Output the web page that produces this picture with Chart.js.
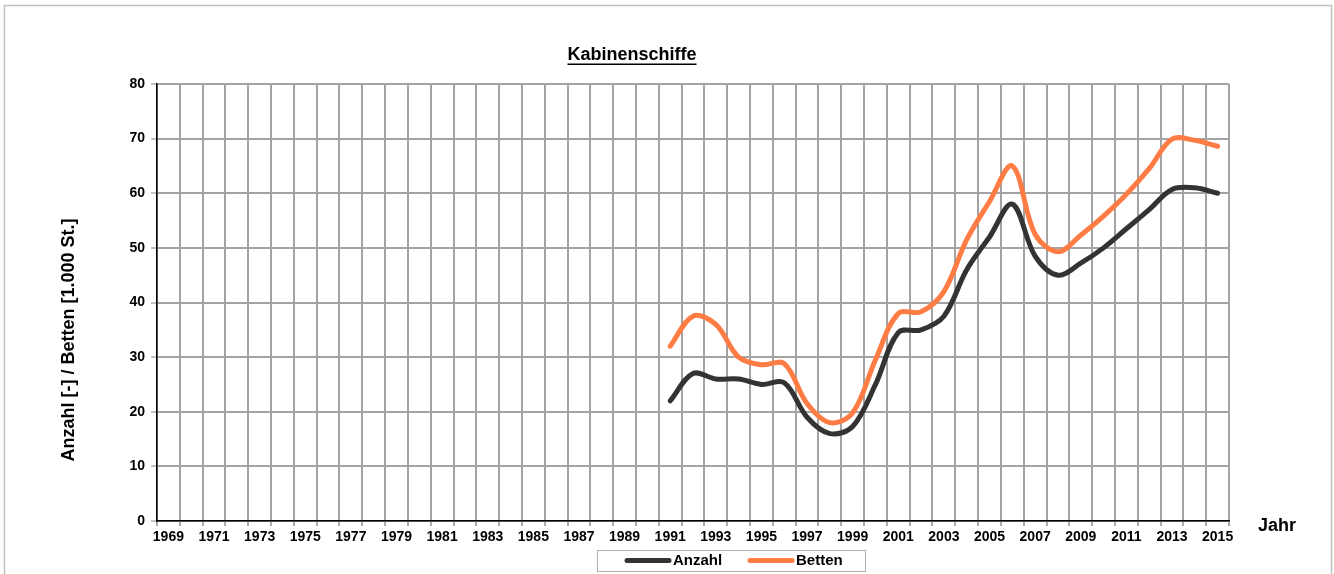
<!DOCTYPE html>
<html>
<head>
<meta charset="utf-8">
<script src="https://cdn.jsdelivr.net/npm/chart.js@4"></script>
<style>
    body { margin: 0; background: #fff; }
    #wrap { width: 1334px; height: 574px; position: relative; }
</style>
</head>
<body>
<div id="wrap"><canvas id="_dm-kabinenChart"></canvas></div>
<script>
// Chart data
// ----------------------------------------------
const years = [
    '1969','1970','1971','1972','1973','1974','1975','1976','1977','1978',
    '1979','1980','1981','1982','1983','1984','1985','1986','1987','1988',
    '1989','1990','1991','1992','1993','1994','1995','1996','1997','1998',
    '1999','2000','2001','2002','2003','2004','2005','2006','2007','2008',
    '2009','2010','2011','2012','2013','2014','2015'
];
// values 1991 - 2015 (no data before)
const anzahl = [22, 27, 26, 26, 25, 25.3, 19, 16, 17.3, 25, 34.5, 35, 37.5, 46, 52, 58, 48.5, 45, 47.2, 50, 53.5, 57, 60.7, 61, 60];
const betten = [32, 37.5, 36, 30, 28.6, 28.8, 21.5, 18, 19.8, 29.5, 38, 38.3, 42, 51.5, 58.5, 65, 52.5, 49.3, 52.3, 55.8, 59.8, 64.5, 69.9, 69.7, 68.6];
const yTicks = [0, 10, 20, 30, 40, 50, 60, 70, 80];

const firstYear = years.indexOf('1991');
const pad = (arr) => years.map((y, i) => (i < firstYear ? null : arr[i - firstYear]));

const darkColor   = '#333333';
const orangeColor = '#ff7d44';
const gridColor   = '#a3a3a3';
const fontFamily  = '"Liberation Sans", Arial, sans-serif';


// Decorations: frame, titles, "Jahr", legend box
// ----------------------------------------------
const decoPlugin = {
    id: 'deco',
    afterDraw(chart) {
        const ctx = chart.ctx;
        const area = chart.chartArea;
        ctx.save();

        // outer frame
        ctx.strokeStyle = '#c0c0c0';
        ctx.lineWidth = 1.5;
        ctx.strokeRect(4.5, 5.5, 1327, 620);

        // title
        ctx.fillStyle = '#000';
        ctx.font = 'bold 18px ' + fontFamily;
        ctx.textAlign = 'center';
        ctx.textBaseline = 'middle';
        ctx.fillText('Kabinenschiffe', 632, 55);
        const tw = ctx.measureText('Kabinenschiffe').width;
        ctx.fillRect(632 - tw / 2, 63.5, tw, 1.5);

        // x axis title
        ctx.fillText('Jahr', 1277, area.bottom + 5);

        // y axis title
        ctx.save();
        ctx.translate(69, 340);
        ctx.rotate(-Math.PI / 2);
        ctx.fillText('Anzahl [-] / Betten [1.000 St.]', 0, 0);
        ctx.restore();

        // legend
        ctx.strokeStyle = '#b0b0b0';
        ctx.lineWidth = 1;
        ctx.strokeRect(597.5, 550.5, 268, 21);
        ctx.font = 'bold 15px ' + fontFamily;
        ctx.textAlign = 'left';
        const items = [[627, 673], [750, 796]];
        chart.data.datasets.forEach((ds, i) => {
            ctx.strokeStyle = ds.borderColor;
            ctx.lineWidth = 5;
            ctx.lineCap = 'round';
            ctx.beginPath();
            ctx.moveTo(items[i][0], 560.5);
            ctx.lineTo(items[i][0] + 42, 560.5);
            ctx.stroke();
            ctx.fillStyle = '#000';
            ctx.fillText(ds.label, items[i][1], 561);
        });
        ctx.restore();
    }
};


document.addEventListener('DOMContentLoaded', () => {

    const kabinenChart = new Chart(
        document.getElementById('_dm-kabinenChart'), {
            type: 'line',
            data: {
                labels: years,
                datasets: [
                    {
                        label: 'Anzahl',
                        data: pad(anzahl),
                        borderColor: darkColor,
                        backgroundColor: darkColor,
                        borderWidth: 5,
                        borderCapStyle: 'round',
                        borderJoinStyle: 'round'
                    },
                    {
                        label: 'Betten',
                        data: pad(betten),
                        borderColor: orangeColor,
                        backgroundColor: orangeColor,
                        borderWidth: 5,
                        borderCapStyle: 'round',
                        borderJoinStyle: 'round'
                    }
                ]
            },
            options: {
                responsive: true,
                maintainAspectRatio: false,
                animation: false,
                layout: {
                    padding: { top: 84, right: 105, bottom: 30, left: 0 }
                },
                plugins: {
                    legend: { display: false },
                    title: { display: false },
                    tooltip: { enabled: false }
                },
                elements: {
                    point: { radius: 0, hoverRadius: 0 },
                    line: { tension: 0.35 }
                },
                scales: {
                    x: {
                        offset: true,
                        grid: {
                            offset: true,
                            color: gridColor,
                            lineWidth: 2,
                            tickColor: '#555',
                            tickLength: 5,
                            tickWidth: 1
                        },
                        border: { color: '#000', width: 1.5 },
                        ticks: {
                            autoSkip: false,
                            maxRotation: 0,
                            minRotation: 0,
                            padding: 3,
                            color: '#000',
                            font: { family: fontFamily, size: 14, weight: 'bold' },
                            callback: (val, i) => (i % 2 === 0 ? years[i] : '')
                        },
                        afterFit: (s) => { s.height = 23; }
                    },
                    y: {
                        min: 0,
                        max: 80,
                        grid: {
                            color: gridColor,
                            lineWidth: 2,
                            tickColor: '#888',
                            tickLength: 6,
                            tickWidth: 1
                        },
                        border: { color: '#000', width: 1.5 },
                        afterBuildTicks: (s) => { s.ticks = yTicks.map(v => ({ value: v })); },
                        ticks: {
                            padding: 6,
                            color: '#000',
                            font: { family: fontFamily, size: 14, weight: 'bold' }
                        },
                        afterFit: (s) => { s.width = 157; }
                    }
                }
            },
            plugins: [decoPlugin]
        }
    );

});
</script>
</body>
</html>
